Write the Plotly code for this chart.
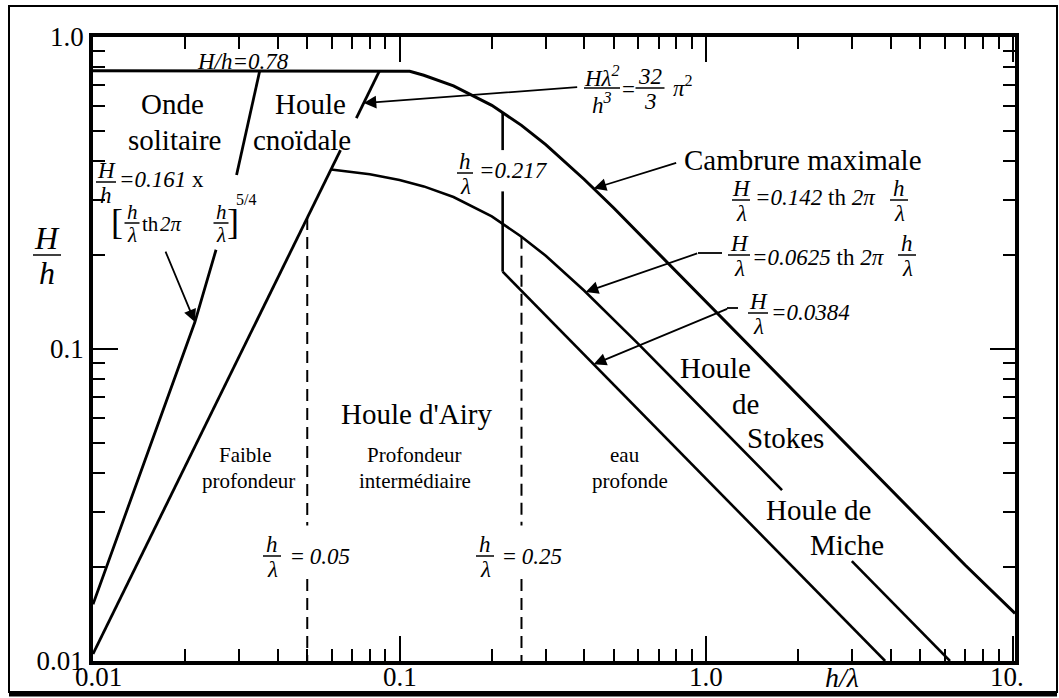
import math
import plotly.graph_objects as go

# ---------------------------------------------------------------
# Wave-theory domains: H/h versus h/lambda (log-log)
# ---------------------------------------------------------------

# Upper limit: breaking H/h = 0.78, then maximum steepness H/lambda = 0.142 th(2 pi h/lambda)
limit_x = [0.01, 0.05, 0.1, 0.108, 0.12, 0.15, 0.2, 0.25, 0.3, 0.4, 0.5, 0.6, 0.8,
           1.0, 1.5, 2.0, 3.0, 5.0, 7.0, 10.19]
limit_y = [0.78, 0.78, 0.78, 0.776, 0.754, 0.697, 0.604, 0.521, 0.452, 0.350, 0.283,
           0.236, 0.1775, 0.142, 0.0947, 0.071, 0.0473, 0.0284, 0.0203, 0.0142]

# Stokes limit H/lambda = 0.0625 th(2 pi h/lambda), interrupted by the "Houle de Miche" label
stokes_x_a = [0.0598, 0.07, 0.08, 0.1, 0.12, 0.15, 0.2, 0.25, 0.3, 0.4, 0.5, 0.6, 0.8,
              1.0, 1.5, 1.77]
stokes_y_a = [0.376, 0.369, 0.363, 0.348, 0.332, 0.307, 0.266, 0.229, 0.199, 0.154,
              0.1245, 0.104, 0.0781, 0.0625, 0.0417, 0.0353]
stokes_x_b = [2.99, 4.0, 5.0, 6.25]
stokes_y_b = [0.0209, 0.0156, 0.0125, 0.0100]

# Deep-water limit H/lambda = 0.0384
miche_x = [0.217, 1.0, 3.84]
miche_y = [0.177, 0.0384, 0.0100]

# Vertical step at h/lambda = 0.217 (broken around its label)
step_x = [0.217, 0.217]
step_y_a = [0.574, 0.434]
step_y_b = [0.320, 0.177]

# Cnoidal limit H lambda^2 / h^3 = 32/3 pi^2 (broken around "Houle cnoidale")
cnoidal_x_a = [0.01, 0.03, 0.0642]
cnoidal_y_a = [0.01053, 0.0948, 0.434]
cnoidal_x_b = [0.0723, 0.0861]
cnoidal_y_b = [0.550, 0.78]

# Solitary-wave limit (broken around its formula)
solitary_x_a = [0.01, 0.01525, 0.0215, 0.0252]
solitary_y_a = [0.0152, 0.0475, 0.122, 0.208]
solitary_x_b = [0.0294, 0.035]
solitary_y_b = [0.361, 0.78]

# Depth-regime boundaries (dashed)
shallow_x = [0.05, 0.05]
shallow_y_a = [0.263, 0.0272]
shallow_y_b = [0.0183, 0.0100]
deep_x = [0.25, 0.25]
deep_y_a = [0.229, 0.0272]
deep_y_b = [0.0183, 0.0100]

# Axis ticks
x_tick_vals = [0.01, 0.1, 1.0, 10.0]
x_tick_text = ["0.01", "0.1", "1.0", "10."]
y_tick_vals = [0.01, 0.1, 1.0]
y_tick_text = ["0.01", "0.1", "1.0"]
minor_vals = [k * 10.0 ** e for e in (-2, -1, 0) for k in range(2, 10)]

SERIF = "Liberation Serif"

# plot-area placement in pixels
W_PX, H_PX = 1059, 698
L, R, T, B = 93, 1015, 37, 661


def px(x):
    return (x - L) / (R - L)


def py(y):
    return (B - y) / (B - T)


fig = go.Figure()


def curve(xs, ys, width=3.0, dash="solid"):
    fig.add_trace(go.Scatter(x=xs, y=ys, mode="lines", showlegend=False,
                             hoverinfo="skip",
                             line=dict(color="black", width=width, dash=dash)))


curve(limit_x, limit_y, 3.0)
curve(stokes_x_a, stokes_y_a, 2.6)
curve(stokes_x_b, stokes_y_b, 2.6)
curve(miche_x, miche_y, 2.6)
curve(step_x, step_y_a, 2.6)
curve(step_x, step_y_b, 2.6)
curve(cnoidal_x_a, cnoidal_y_a, 2.8)
curve(cnoidal_x_b, cnoidal_y_b, 2.8)
curve(solitary_x_a, solitary_y_a, 2.8)
curve(solitary_x_b, solitary_y_b, 2.8)
for ys in (shallow_y_a, shallow_y_b):
    curve(shallow_x, ys, 2.0, "12px,7px")
for ys in (deep_y_a, deep_y_b):
    curve(deep_x, ys, 2.0, "12px,7px")

annotations = []
shapes = []


def txt(x, y, s, size=29, xanchor="center", yanchor="middle"):
    annotations.append(dict(xref="paper", yref="paper", x=px(x), y=py(y), text=s,
                            showarrow=False, xanchor=xanchor, yanchor=yanchor,
                            font=dict(family=SERIF, size=size, color="black")))


def hline(x0, x1, y, width=1.5):
    shapes.append(dict(type="line", xref="paper", yref="paper",
                       x0=px(x0), x1=px(x1), y0=py(y), y1=py(y),
                       line=dict(color="black", width=width)))


def frac(xc, ybar, num, den, size=23, w=18, den_drop=0.57):
    txt(xc, ybar - 0.52 * size, "<i>%s</i>" % num, size)
    txt(xc, ybar + den_drop * size, "<i>%s</i>" % den, size)
    hline(xc - w / 2, xc + w / 2, ybar)


def arrow(tip_x, tip_y, tail_dx, tail_dy):
    annotations.append(dict(xref="x", yref="y", x=math.log10(tip_x), y=math.log10(tip_y),
                            text="", showarrow=True, ax=tail_dx, ay=tail_dy,
                            arrowhead=2, arrowsize=1.4, arrowwidth=1.8,
                            arrowcolor="black", standoff=0))


# --- x tick labels, set just under the axis ---
x_label_shift = [5, 0, 0, -6]
for v, s, dx in zip(x_tick_vals, x_tick_text, x_label_shift):
    annotations.append(dict(xref="x", yref="paper", x=math.log10(v), y=py(677),
                            text=s, showarrow=False, xanchor="center", yanchor="middle",
                            xshift=dx, font=dict(family=SERIF, size=27, color="black")))

# --- region names ---
txt(172, 104, "Onde")
txt(174, 140, "solitaire")
txt(310, 104, "Houle")
txt(302, 140, "cnoïdale")
txt(803, 160, "Cambrure maximale")
txt(417, 414, "Houle d'Airy")
txt(715, 368, "Houle")
txt(745, 404, "de")
txt(785, 438, "Stokes")
txt(819, 510, "Houle de")
txt(847, 545, "Miche")
txt(245, 455, "Faible", 21)
txt(248, 481, "profondeur", 21)
txt(414, 455, "Profondeur", 21)
txt(415, 481, "intermédiaire", 21)
txt(625, 455, "eau", 21)
txt(630, 481, "profonde", 21)

# --- formulas ---
txt(243, 62, "<i>H/h=0.78</i>", 23)

frac(106, 182, "H", "h", 23, 20)
txt(117, 180, "<i>=0.161</i> x", 23, xanchor="left")
txt(117, 222, "[", 36)
frac(132, 223, "h", "λ", 21, 15)
txt(150, 224, "th", 21)
txt(171, 224, "<i>2π</i>", 21)
frac(221, 223, "h", "λ", 21, 15)
txt(233, 222, "]", 36)
txt(246, 200, "5/4", 16)

frac(602, 88, "Hλ<sup>2</sup>", "h<sup>3</sup>", 23, 36, den_drop=0.68)
txt(628, 89, "=", 23)
frac(650, 88, "32", "3", 23, 29)
txt(683, 86, "<i>π</i><sup>2</sup>", 23)

frac(465, 173, "h", "λ", 23, 16)
txt(477, 170, "<i>=0.217</i>", 23, xanchor="left")

frac(741, 200, "H", "λ", 23, 18)
txt(753, 198, "<i>=0.142</i> th <i>2π</i>", 23, xanchor="left")
frac(899, 200, "h", "λ", 23, 18)

frac(739, 255, "H", "λ", 23, 22)
txt(750, 257, "<i>=0.0625</i> th <i>2π</i>", 23, xanchor="left")
frac(907, 255, "h", "λ", 23, 18)

frac(758, 313, "H", "λ", 23, 20)
txt(769, 312, "<i>=0.0384</i>", 23, xanchor="left")

frac(272, 556, "h", "λ", 23, 18)
txt(289, 556, "= <i>0.05</i>", 23, xanchor="left")
frac(485, 556, "h", "λ", 23, 18)
txt(501, 556, "= <i>0.25</i>", 23, xanchor="left")

# axis titles
frac(47, 255, "H", "h", 32, 28)
txt(842, 678, "<i>h/λ</i>", 28)

# --- leader arrows (tip on the curve, tail offset in pixels) ---
arrow(0.0215, 0.122, -30, -72)       # solitary formula
arrow(0.0764, 0.614, 215, -16)       # cnoidal formula
arrow(0.43, 0.327, 84, -26)          # maximum steepness
arrow(0.405, 0.1524, 113, -39)       # H/lambda = 0.0625
arrow(0.43, 0.0893, 135, -56)        # H/lambda = 0.0384
hline(698, 722, 253, 1.8)
hline(727, 738, 308, 1.8)

# outer frame
shapes.append(dict(type="rect", xref="paper", yref="paper",
                   x0=px(9), x1=px(1057), y0=py(692), y1=py(6),
                   line=dict(color="black", width=2)))
shapes.append(dict(type="line", xref="paper", yref="paper",
                   x0=px(9), x1=px(1057), y0=py(694), y1=py(694),
                   line=dict(color="black", width=5)))

axis_common = dict(type="log", showline=True, linewidth=3.5, linecolor="black",
                   mirror="ticks", ticks="inside", ticklen=25, tickwidth=2,
                   tickcolor="black", showgrid=False, zeroline=False,
                   automargin=False,
                   tickfont=dict(family=SERIF, size=27, color="black"),
                   tickmode="array")

fig.update_xaxes(range=[-2, 1.008], tickvals=x_tick_vals, ticktext=x_tick_text,
                 showticklabels=False,
                 minor=dict(tickmode="array", tickvals=minor_vals, ticks="inside",
                            ticklen=12, tickwidth=2, tickcolor="black", showgrid=False),
                 **axis_common)
fig.update_yaxes(range=[-2, 0], tickvals=y_tick_vals, ticktext=y_tick_text,
                 minor=dict(tickmode="array", tickvals=minor_vals, ticks="inside",
                            ticklen=12, tickwidth=2, tickcolor="black", showgrid=False),
                 **axis_common)

fig.update_layout(width=W_PX, height=H_PX,
                  margin=dict(l=L, r=W_PX - R, t=T, b=H_PX - B, pad=0),
                  paper_bgcolor="white", plot_bgcolor="white",
                  annotations=annotations, shapes=shapes, showlegend=False)

fig.write_html("out.html")
